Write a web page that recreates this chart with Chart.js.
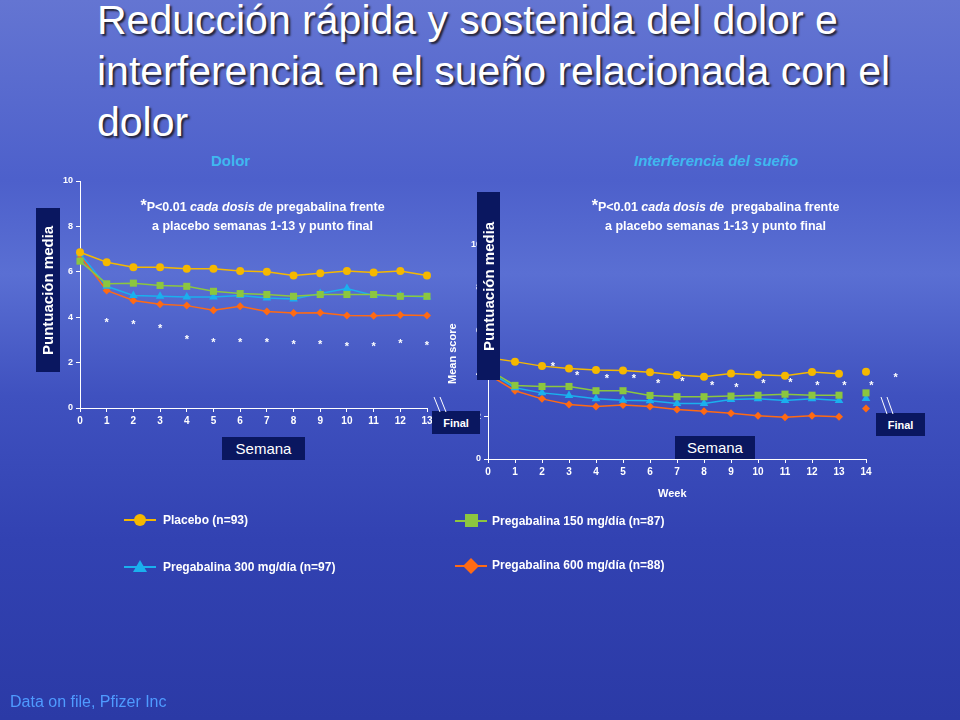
<!DOCTYPE html>
<html>
<head>
<meta charset="utf-8">
<script src="https://cdn.jsdelivr.net/npm/chart.js@4"></script>
<style>
  html, body { margin: 0; padding: 0; }
  body {
    width: 960px; height: 720px; position: relative; overflow: hidden;
    font-family: Arial, "Liberation Sans", sans-serif;
    background: linear-gradient(180deg, #6475d2 0%, #4d60cb 25%, #5a6fd3 38%, #3f51bf 55%, #3242b2 75%, #2b3aa6 100%);
  }
  .abs { position: absolute; }
  h1 {
    position: absolute; left: 97px; top: -5px; margin: 0;
    font-size: 41px; line-height: 51px; font-weight: normal; color: #fff;
    text-shadow: 2px 2px 2px #223;
  }
  .sub { font-size: 15px; font-weight: bold; font-style: italic; color: #3fb8f0; }
  .note { color: #fff; font-size: 12.5px; font-weight: bold; text-align: center; line-height: 19px; }
  .box { background: #0a1760; color: #fff; }
  .vbox { writing-mode: vertical-rl; transform: rotate(180deg); font-size: 15px; font-weight: bold;
          display: flex; align-items: center; justify-content: center; }
  .final { font-size: 11px; font-weight: bold; display: flex; align-items: center; justify-content: center; }
  .sem { font-size: 15px; display: flex; align-items: center; justify-content: center; }
  .leg { color: #fff; font-size: 12px; font-weight: bold; }
  canvas { position: absolute; }
</style>
</head>
<body>
<h1>Reducción rápida y sostenida del dolor e<br>interferencia en el sueño relacionada con el<br>dolor</h1>
<div class="abs sub" style="left:211px;top:152px;font-style:normal">Dolor</div>
<div class="abs sub" style="left:634px;top:152px">Interferencia del sueño</div>

<canvas id="pain" style="left:40px;top:170px;width:440px;height:270px"></canvas>
<canvas id="sleep" style="left:440px;top:230px;width:490px;height:280px"></canvas>

<div class="abs note" style="left:95px;top:196px;width:335px"><span style="font-size:16px">*</span>P&lt;0.01 <i>cada dosis de</i> pregabalina frente<br>a placebo semanas 1-13 y punto final</div>
<div class="abs note" style="left:548px;top:196px;width:335px"><span style="font-size:16px">*</span>P&lt;0.01 <i>cada dosis de</i>&nbsp; pregabalina frente<br>a placebo semanas 1-13 y punto final</div>

<div class="abs" style="left:446px;top:384px;transform:rotate(-90deg);transform-origin:0 0;color:#fff;font-size:11px;font-weight:bold">Mean score</div>
<div class="abs" style="left:658px;top:487px;color:#fff;font-size:11px;font-weight:bold">Week</div>

<div class="abs box vbox" style="left:36px;top:208px;width:24px;height:164px">Puntuación media</div>
<div class="abs box vbox" style="left:477px;top:192px;width:23px;height:188px">Puntuación media</div>
<div class="abs box sem" style="left:222px;top:437px;width:83px;height:23px">Semana</div>
<div class="abs box sem" style="left:675px;top:436px;width:80px;height:23px">Semana</div>
<div class="abs box final" style="left:432px;top:411px;width:48px;height:23px">Final</div>
<div class="abs box final" style="left:876px;top:413px;width:49px;height:23px">Final</div>

<svg class="abs" style="left:0;top:0" width="960" height="720">
  <g stroke="#fff" stroke-width="1">
    <line x1="434" y1="397" x2="440" y2="412"/><line x1="440" y1="397" x2="446" y2="412"/>
    <line x1="881" y1="397" x2="887" y2="414"/><line x1="887" y1="397" x2="893" y2="414"/>
  </g>
  <line x1="124" y1="520" x2="156" y2="520" stroke="#f5b800" stroke-width="2"/>
  <circle cx="140" cy="520" r="6" fill="#f5b800"/>
  <line x1="124" y1="567" x2="156" y2="567" stroke="#1ab0ee" stroke-width="2"/>
  <polygon points="140,560 147,572 133,572" fill="#1ab0ee"/>
  <line x1="455" y1="521" x2="487" y2="521" stroke="#8cc63f" stroke-width="2"/>
  <rect x="465" y="514" width="13" height="13" fill="#8cc63f"/>
  <line x1="455" y1="566" x2="487" y2="566" stroke="#ff6a13" stroke-width="2"/>
  <polygon points="471,558 479,566 471,574 463,566" fill="#ff6a13"/>
</svg>
<div class="abs leg" style="left:163px;top:513px">Placebo (n=93)</div>
<div class="abs leg" style="left:163px;top:560px">Pregabalina 300 mg/día (n=97)</div>
<div class="abs leg" style="left:492px;top:514px">Pregabalina 150 mg/día (n=87)</div>
<div class="abs leg" style="left:492px;top:558px">Pregabalina 600 mg/día (n=88)</div>

<div class="abs" style="left:10px;top:693px;color:#4f9bff;font-size:16px">Data on file, Pfizer Inc</div>

<script>
// ---------- data ----------
const painWeeks = [0,1,2,3,4,5,6,7,8,9,10,11,12,13];
const painFinalX = 14;
const painPlacebo = [6.86,6.42,6.2,6.2,6.13,6.13,6.03,6.0,5.84,5.94,6.03,5.97,6.03,5.84];
const pain150 = [6.47,5.47,5.5,5.4,5.36,5.14,5.04,5.0,4.92,5.0,5.0,5.0,4.92,4.92];
const pain300 = [6.8,5.36,4.96,4.92,4.89,4.89,4.96,4.85,4.8,5.04,5.26,4.96,4.95,4.89];
const pain600 = [6.72,5.18,4.74,4.57,4.51,4.31,4.48,4.25,4.19,4.2,4.07,4.06,4.1,4.07];
const painFinal = { placebo: 6.16, d150: 5.3, d300: 5.07, d600: 4.38 };
const painStarX = [1,2,3,4,5,6,7,8,9,10,11,12,13];
const painStarY = [3.87,3.77,3.6,3.14,3.0,3.0,3.0,2.9,2.9,2.82,2.82,2.95,2.85];

const sleepWeeks = [0,1,2,3,4,5,6,7,8,9,10,11,12,13];
const sleepFinalX = 14;
const sleepPlacebo = [4.73,4.55,4.34,4.23,4.16,4.13,4.05,3.92,3.84,4.0,3.94,3.89,4.06,3.98];
const sleep150 = [4.19,3.44,3.39,3.39,3.19,3.19,2.97,2.91,2.91,2.94,2.98,3.03,2.98,2.98];
const sleep300 = [4.1,3.33,3.09,2.97,2.81,2.75,2.72,2.59,2.59,2.78,2.81,2.73,2.81,2.73];
const sleep600 = [3.95,3.19,2.81,2.55,2.45,2.52,2.45,2.31,2.23,2.14,2.02,1.95,2.02,1.98];
const sleepFinal = { placebo: 4.08, d150: 3.09, d300: 2.83, d600: 2.36 };
const sleepStarX = [2.4,3.3,4.4,5.4,6.3,7.2,8.3,9.2,10.2,11.2,12.2,13.2,14.2,15.1];
const sleepStarY = [4.45,4.0,3.87,3.87,3.64,3.72,3.56,3.45,3.64,3.67,3.53,3.56,3.53,3.94];

const yTicks = [0,2,4,6,8,10];

// ---------- chart ----------
const series = [
  { key: 'placebo', color: '#f5b800', style: 'circle', r: 4 },
  { key: 'd150', color: '#8cc63f', style: 'rect', r: 5 },
  { key: 'd300', color: '#1ab0ee', style: 'triangle', r: 5 },
  { key: 'd600', color: '#ff6a13', style: 'rectRot', r: 4 }
];

const starPlugin = {
  id: 'stars',
  afterDatasetsDraw(chart, args, opts) {
    const c = chart.ctx, xs = chart.scales.x, ys = chart.scales.y;
    c.save();
    c.fillStyle = '#fff';
    c.font = 'bold 11px Arial';
    c.textAlign = 'center';
    c.textBaseline = 'middle';
    opts.xs.forEach((x, i) => c.fillText('*', xs.getPixelForValue(x), ys.getPixelForValue(opts.ys[i]) + 3));
    c.restore();
  }
};

function makeChart(id, weeks, lines, finals, finalX, stars, pad, yw, xh, fontSize) {
  const datasets = [];
  series.forEach((s, i) => {
    datasets.push({
      data: weeks.map((w, j) => ({ x: w, y: lines[i][j] })),
      borderColor: s.color, backgroundColor: s.color, borderWidth: 1.5,
      pointStyle: s.style, pointRadius: s.r, pointBorderWidth: 0, showLine: true, clip: false
    });
    datasets.push({
      data: [{ x: finalX, y: finals[s.key] }],
      backgroundColor: s.color, pointStyle: s.style, pointRadius: s.r, pointBorderWidth: 0,
      showLine: false, clip: false
    });
  });
  return new Chart(document.getElementById(id), {
    type: 'scatter',
    data: { datasets },
    plugins: [starPlugin],
    options: {
      responsive: false, animation: false,
      layout: { padding: pad },
      plugins: { legend: { display: false }, tooltip: { enabled: false }, stars: stars },
      scales: {
        x: {
          type: 'linear', min: 0, max: pad.maxX,
          afterFit: a => { a.height = xh; },
          afterBuildTicks: a => { a.ticks = weeks.concat(pad.maxX === 14 ? [14] : []).map(v => ({ value: v })); },
          ticks: { color: '#fff', font: { size: fontSize, weight: 'bold' }, padding: 3 },
          grid: { drawOnChartArea: false, color: '#fff', tickLength: 4 },
          border: { color: '#fff' }
        },
        y: {
          min: 0, max: 10,
          afterFit: a => { a.width = yw; },
          afterBuildTicks: a => { a.ticks = yTicks.map(v => ({ value: v })); },
          ticks: { color: '#fff', font: { size: fontSize - 1, weight: 'bold' }, padding: 3 },
          grid: { drawOnChartArea: false, color: '#fff', tickLength: 4 },
          border: { color: '#fff' }
        }
      }
    }
  });
}

function setSize(id, w, h) {
  const el = document.getElementById(id);
  el.width = w; el.height = h;
}
setSize('pain', 440, 270);
setSize('sleep', 490, 280);

makeChart('pain', painWeeks, [painPlacebo, pain150, pain300, pain600], painFinal, painFinalX,
  { xs: painStarX, ys: painStarY },
  { top: 11, right: 53, left: 0, bottom: 0, maxX: 13 }, 40, 32, 10);

makeChart('sleep', sleepWeeks, [sleepPlacebo, sleep150, sleep300, sleep600], sleepFinal, sleepFinalX,
  { xs: sleepStarX, ys: sleepStarY },
  { top: 15, right: 64, left: 0, bottom: 0, maxX: 14 }, 48, 51, 10);
</script>
</body>
</html>
